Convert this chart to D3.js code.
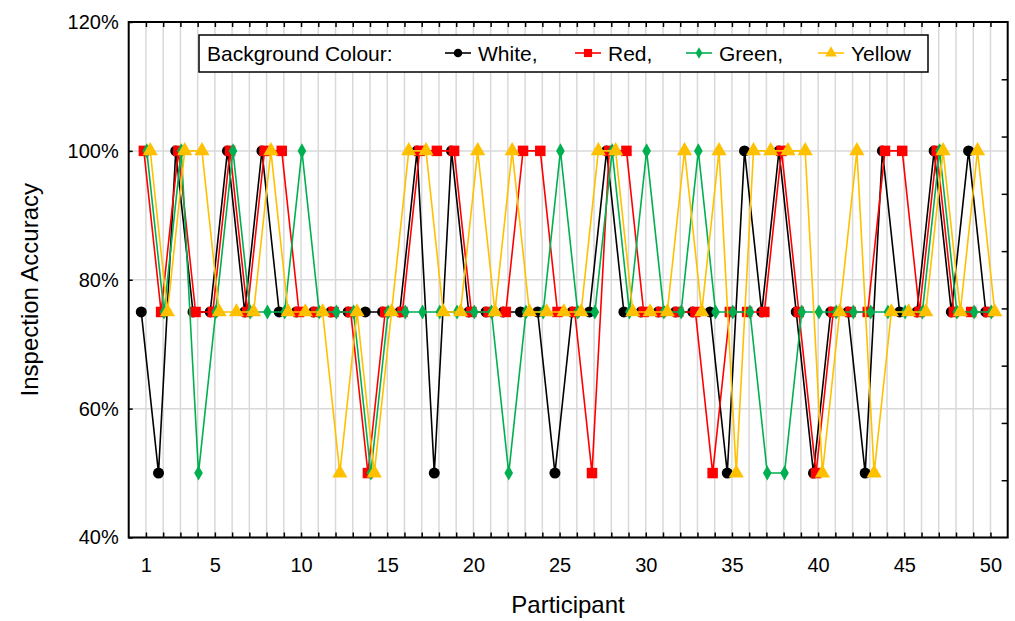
<html>
<head>
<style>
  body { margin: 0; background: #fff; }
  text { font-family: "Liberation Sans", Arial, sans-serif; }
</style>
</head>
<body>
<svg id="cont" width="1015" height="621"></svg>
<script src="https://cdn.jsdelivr.net/npm/d3@7"></script>
<script>
// data: inspection accuracy (%) per participant, one array per background colour
var participants = d3.range(1, 51);
var white  = [75,50,100,75,75,100,75,100,75,75, 75,75,75,75,75,75,100,50,100,75, 75,75,75,75,50,75,75,100,75,75, 75,75,75,75,50,100,75,100,75,50, 75,75,50,100,75,75,100,75,100,75];
var red    = [100,75,100,75,75,100,75,100,100,75, 75,75,75,50,75,75,100,100,100,75, 75,75,100,100,75,75,50,100,100,75, 75,75,75,50,75,75,75,100,75,50, 75,75,75,100,100,75,100,75,75,75];
var green  = [100,75,100,50,75,100,75,75,75,100, 75,75,75,50,75,75,75,75,75,75, 75,50,75,75,100,75,75,100,75,100, 75,75,100,75,75,75,50,50,75,75, 75,75,75,75,75,75,100,75,75,75];
var yellow = [100,75,100,100,75,75,75,100,75,75, 75,50,75,50,75,100,100,75,75,100, 75,100,75,75,75,75,100,100,75,75, 75,100,75,100,50,100,100,100,100,50, 75,100,50,75,75,75,100,75,100,75];
var seriesNames = ["White", "Red", "Green", "Yellow"];
var xTicks = [1, 5, 10, 15, 20, 25, 30, 35, 40, 45, 50];
var yTicks = [40, 60, 80, 100, 120];

var series = [
  {name: seriesNames[0], values: white,  color: "#000000", shape: d3.symbolCircle,   size: 95,  off: -0.27},
  {name: seriesNames[1], values: red,    color: "#ff0000", shape: d3.symbolSquare,   size: 110, off: -0.12},
  {name: seriesNames[2], values: green,  color: "#00b050", shape: d3.symbolDiamond,  size: 65,  off: 0.05},
  {name: seriesNames[3], values: yellow, color: "#ffc000", shape: d3.symbolTriangle, size: 100, off: 0.25}
];

var svg = d3.select("#cont");
var pLeft = 128.7, pRight = 1007.7, pTop = 22, pBottom = 537.5;

var x = d3.scaleLinear().domain([0, 51]).range([pLeft, pRight]);
var y = d3.scaleLinear().domain([40, 120]).range([pBottom, pTop]);

// grid
svg.append("g").selectAll("line").data(participants).enter().append("line")
  .attr("x1", d => x(d)).attr("x2", d => x(d))
  .attr("y1", pTop).attr("y2", pBottom)
  .attr("stroke", "#d9d9d9").attr("stroke-width", 1.5);
svg.append("g").selectAll("line").data(yTicks).enter().append("line")
  .attr("x1", pLeft).attr("x2", pRight)
  .attr("y1", d => y(d)).attr("y2", d => y(d))
  .attr("stroke", "#d9d9d9").attr("stroke-width", 1.5);

// axes
var xb = d3.axisBottom(x).tickValues(participants).tickSizeInner(-5).tickSizeOuter(0).tickFormat(d => xTicks.includes(d) ? d : "");
var xt = d3.axisTop(x).tickValues(participants).tickSizeInner(-5).tickSizeOuter(0).tickFormat("");
var yl = d3.axisLeft(y).tickValues(yTicks).tickSizeInner(-4).tickSizeOuter(0).tickFormat(d => d + "%");
var yr = d3.axisRight(y).tickValues(d3.range(1, 9).map(i => 40 + i * 80 / 9)).tickSizeInner(-6).tickSizeOuter(0).tickFormat("");

function styleAxis(g) {
  g.select(".domain").remove();
  g.selectAll(".tick line").attr("stroke", "#000").attr("stroke-width", 1.5);
  g.selectAll(".tick text").attr("fill", "#000").style("font-size", "20px")
   .style("font-family", "'Liberation Sans', Arial, sans-serif");
}
svg.append("g").attr("transform", "translate(0," + pBottom + ")").call(xb).call(styleAxis)
  .selectAll(".tick text").attr("y", 20).attr("dy", "0.71em");
svg.append("g").attr("transform", "translate(0," + pTop + ")").call(xt).call(styleAxis);
svg.append("g").attr("transform", "translate(" + pLeft + ",0)").call(yl).call(styleAxis)
  .selectAll(".tick text").attr("x", -10);
svg.append("g").attr("transform", "translate(" + pRight + ",0)").call(yr).call(styleAxis);

svg.append("rect").attr("x", pLeft).attr("y", pTop)
  .attr("width", pRight - pLeft).attr("height", pBottom - pTop)
  .attr("fill", "none").attr("stroke", "#000").attr("stroke-width", 2);

// series
var line = d3.line();
series.forEach(function(s) {
  var pts = s.values.map((v, i) => [x(participants[i] + s.off), y(v)]);
  var g = svg.append("g");
  g.append("path").attr("d", line(pts)).attr("fill", "none")
    .attr("stroke", s.color).attr("stroke-width", 1.6);
  g.selectAll("path.m").data(pts).enter().append("path").attr("class", "m")
    .attr("transform", d => "translate(" + d[0] + "," + d[1] + ")")
    .attr("d", d3.symbol().type(s.shape).size(s.size))
    .attr("fill", s.color);
});

// axis titles
svg.append("text").attr("x", 568).attr("y", 613).attr("text-anchor", "middle")
  .style("font-size", "24px").text("Participant");
svg.append("text").attr("transform", "translate(38," + ((pTop + pBottom) / 2 + 10) + ") rotate(-90)")
  .attr("text-anchor", "middle").style("font-size", "24px").text("Inspection Accuracy");

// legend
var lg = svg.append("g");
lg.append("rect").attr("x", 199).attr("y", 35).attr("width", 729).attr("height", 37)
  .attr("fill", "#fff").attr("stroke", "#000").attr("stroke-width", 1.5);
lg.append("text").attr("x", 207).attr("y", 61).style("font-size", "21px").text("Background Colour:");
var legX = [445, 575, 686, 818];
series.forEach(function(s, i) {
  var lx = legX[i];
  lg.append("line").attr("x1", lx).attr("x2", lx + 26).attr("y1", 53).attr("y2", 53)
    .attr("stroke", s.color).attr("stroke-width", 1.6);
  lg.append("path").attr("transform", "translate(" + (lx + 13) + ",53)")
    .attr("d", d3.symbol().type(s.shape).size(s.size * 0.6)).attr("fill", s.color);
  lg.append("text").attr("x", lx + 33).attr("y", 61).style("font-size", "21px")
    .text(s.name + (i < 3 ? "," : ""));
});
</script>
</body>
</html>
